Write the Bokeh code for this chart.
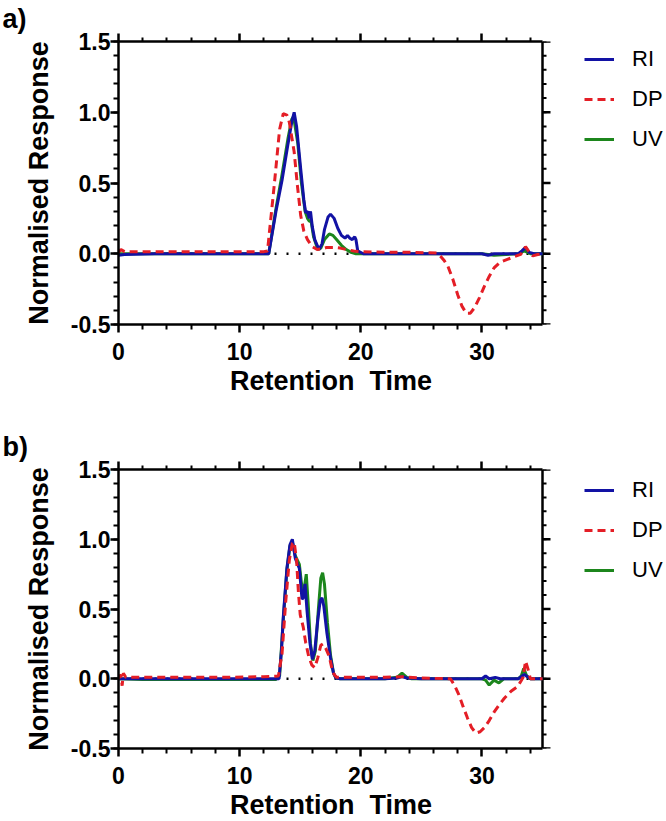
from bokeh.plotting import figure
from bokeh.models import (LinearAxis, FixedTicker, PrintfTickFormatter, Legend,
                          LegendItem, Range1d, Title)
from bokeh.layouts import column
from bokeh.embed import file_html
from bokeh.resources import INLINE

# ---------------- data: panel a ----------------
a_ri_x = [0, 0.5, 3, 6, 9, 12, 12.4, 13.0, 13.5, 14.0, 14.3, 14.5, 14.7, 15.04, 15.3, 15.45,
          15.6, 15.75, 15.85, 16.0, 16.2, 16.55, 16.8, 17.0, 17.3, 17.5, 17.8, 18.1, 18.4,
          18.7, 18.9, 19.1, 19.3, 19.5, 19.6, 19.75, 20.2, 22, 25, 28, 30, 30.5, 31, 32, 33,
          33.3, 33.6, 33.9, 34.3, 35]
a_ri_y = [-0.01, -0.005, 0, 0, 0, 0, 0, 0.3, 0.52, 0.78, 0.93, 1.0, 0.9, 0.6, 0.38, 0.29,
          0.3, 0.25, 0.3, 0.19, 0.1, 0.03, 0.07, 0.17, 0.26, 0.28, 0.25, 0.18, 0.13,
          0.11, 0.13, 0.11, 0.1, 0.12, 0.1, 0.02, 0.0, 0, 0, 0, 0, -0.01, 0, 0, 0,
          0.02, 0.045, 0.01, 0, 0]

a_uv_x = [0, 3, 6, 9, 12, 12.4, 13.0, 13.5, 14.0, 14.3, 14.45, 14.8, 15.1, 15.4, 15.6, 15.75,
          15.9, 16.1, 16.45, 16.7, 17.0, 17.4, 17.7, 18.0, 18.4, 18.8, 19.2, 19.6, 20, 25, 30,
          31, 33, 33.5, 34, 35]
a_uv_y = [0, 0, 0, 0, 0, 0, 0.32, 0.56, 0.82, 0.95, 0.97, 0.78, 0.5, 0.3, 0.25, 0.23,
          0.23, 0.12, 0.03, 0.04, 0.1, 0.14, 0.13, 0.1, 0.06, 0.03, 0.01, 0, 0, 0, 0,
          -0.01, 0, 0.02, 0, 0]

a_dp_x = [0, 0.2, 0.5, 3, 6, 9, 12, 12.3, 12.85, 13.3, 13.6, 13.9, 14.1, 14.5, 14.77, 15.04,
          15.3, 15.6, 16.0, 16.4, 16.8, 17.2, 17.7, 18.3, 18.8, 19.4, 20, 22, 24, 26.3, 26.6,
          26.9, 27.2, 27.6, 28.0, 28.35, 28.7, 29.05, 29.4, 29.8, 30.2, 30.6, 31.0, 31.5, 32.1,
          32.7, 33.2, 33.6, 34.0, 34.2, 34.6, 35]
a_dp_y = [0.01, 0.03, 0.015, 0.015, 0.015, 0.015, 0.015, 0.02, 0.48, 0.88, 0.99, 0.98, 0.93,
          0.72, 0.48, 0.27, 0.16, 0.1, 0.05, 0.03, 0.035, 0.045, 0.045, 0.04, 0.03, 0.02,
          0.015, 0.01, 0.01, 0.005, -0.02, -0.05, -0.09, -0.18, -0.29, -0.37, -0.42, -0.42,
          -0.38, -0.31, -0.23, -0.16, -0.10, -0.06, -0.04, -0.02, -0.005, 0.05, 0.0, -0.015,
          -0.005, 0.0]

# ---------------- data: panel b ----------------
b_ri_x = [0, 3, 6, 9, 12, 13.0, 13.25, 13.45, 13.6, 13.9, 14.15, 14.35, 14.6, 14.93, 15.15,
          15.25, 15.4, 15.55, 15.8, 16.0, 16.2, 16.45, 16.65, 16.8, 16.95, 17.2, 17.5, 17.75,
          17.95, 18.3, 20, 22, 23.0, 23.4, 23.8, 25, 28, 30, 30.3, 30.6, 31.1, 31.5, 33, 33.5,
          34, 35]
b_ri_y = [0, 0, 0, 0, 0, 0, 0.0, 0.2, 0.44, 0.79, 0.96, 1.0, 0.86, 0.79, 0.57,
          0.58, 0.68, 0.5, 0.26, 0.14, 0.2, 0.42, 0.56, 0.58, 0.52, 0.33, 0.15, 0.04,
          0.005, 0, 0, 0, 0.005, 0.015, 0.005, 0, 0, 0, 0.02, 0, 0.01, 0, 0, 0.03,
          0, 0]

b_uv_x = [0, 2, 6, 10, 13.0, 13.3, 13.6, 13.9, 14.15, 14.35, 14.6, 14.93, 15.2, 15.35, 15.5,
          15.65, 15.85, 16.05, 16.25, 16.5, 16.7, 16.85, 17.0, 17.25, 17.5, 17.75, 17.95, 18.3,
          22, 23.0, 23.4, 23.8, 24.2, 30, 30.3, 30.6, 31.0, 31.4, 31.8, 33, 33.25, 33.45, 33.7,
          34.0, 35]
b_uv_y = [0, -0.005, -0.005, -0.005, -0.005, 0.02, 0.42, 0.78, 0.95, 0.98, 0.88, 0.82, 0.61,
          0.66, 0.75, 0.55, 0.25, 0.13, 0.2, 0.5, 0.72, 0.76, 0.68, 0.4, 0.17, 0.04, 0.005, 0,
          0, 0.01, 0.04, 0.01, 0, 0, -0.01, -0.045, -0.01, -0.03, 0, 0, 0.02, 0.073, 0.02,
          0, 0]

b_dp_x = [0, 0.2, 0.3, 0.4, 0.6, 3, 6, 9, 12, 13.2, 13.5, 13.8, 14.1, 14.35, 14.5, 14.7, 14.85,
          15.0, 15.25, 15.45, 15.7, 15.95, 16.2, 16.45, 16.7, 16.87, 17.1, 17.4, 17.6, 17.8,
          18.0, 18.5, 22, 23.4, 25, 27.4, 27.75, 28.1, 28.45, 28.8, 29.15, 29.5, 29.85, 30.2,
          30.6, 31.0, 31.4, 31.85, 32.4, 32.95, 33.2, 33.4, 33.6, 33.8, 34.0, 34.5, 35]
b_dp_y = [0.0, 0.03, -0.05, 0.04, 0.01, 0.01, 0.01, 0.01, 0.015, 0.02, 0.18, 0.55, 0.85, 0.97,
          0.98, 0.85, 0.62, 0.46, 0.37, 0.26, 0.16, 0.1, 0.08, 0.15, 0.24, 0.25, 0.22, 0.16,
          0.08, 0.03, 0.01, 0.01, 0.01, 0.015, 0.005, 0.0, -0.05, -0.115, -0.2, -0.28, -0.35,
          -0.39, -0.38, -0.35, -0.3, -0.24, -0.19, -0.14, -0.09, -0.056, -0.02, 0.01, 0.127,
          0.07, 0.0, 0.0, 0.0]

x_start, x_end = 0, 35
y_start, y_end = -0.5, 1.5
x_major = [0, 10, 20, 30]
x_minor = [2, 4, 6, 8, 12, 14, 16, 18, 22, 24, 26, 28, 32, 34]
y_major = [-0.5, 0.0, 0.5, 1.0, 1.5]
y_minor = [round(-0.5 + 0.1 * i, 1) for i in range(21)]

series_names = ["RI", "DP", "UV"]
panel_labels = ["a)", "b)"]
x_title = "Retention\u00a0 Time"
y_title = "Normalised Response"

BLUE = "#1212a4"
RED = "#e41e26"
GREEN = "#1c861c"
FONT = "Liberation Sans"

AXIS_W = 424          # pixel width of the axes box (0..35)
FRAME_W = 666 - 118   # frame reaches to the window edge so the legend fits inside it
PX_PER_X = AXIS_W / (x_end - x_start)
X_VIEW_END = x_start + FRAME_W / PX_PER_X
X_TITLE_W = 201       # rendered width of the x-axis title, used to centre it under the box


def style_axis(ax, labels=True, major_len=8, minor_len=5):
    ax.axis_line_width = 2.5
    ax.axis_line_color = "black"
    ax.major_tick_line_width = 2.5
    ax.minor_tick_line_width = 2
    ax.major_tick_out = major_len
    ax.major_tick_in = 0
    ax.minor_tick_out = minor_len
    ax.minor_tick_in = 0
    ax.major_label_text_font = FONT
    ax.major_label_text_font_style = "bold"
    ax.major_label_text_font_size = "23px"
    ax.major_label_text_color = "black"
    ax.axis_label_text_font = FONT
    ax.axis_label_text_font_style = "bold"
    ax.axis_label_text_font_size = "27px"
    ax.axis_label_text_color = "black"
    if not labels:
        ax.major_label_text_font_size = "0px"
        ax.major_label_text_alpha = 0
        ax.major_label_standoff = 0


def make_panel(ri, dp, uv, label, top_border, frame_h, bottom_border, leg_top):
    p = figure(frame_width=FRAME_W, frame_height=frame_h,
               x_range=Range1d(x_start, X_VIEW_END), y_range=Range1d(y_start, y_end),
               output_backend="svg", toolbar_location=None,
               min_border_left=118, min_border_right=0,
               min_border_top=top_border, min_border_bottom=bottom_border)
    p.grid.visible = False
    p.outline_line_color = None
    p.background_fill_color = "white"
    p.border_fill_color = "white"

    p.title.text = label
    p.title.text_font = FONT
    p.title.text_font_style = "bold"
    p.title.text_font_size = "27px"
    p.title.align = "left"
    p.title.offset = -116
    p.title.standoff = 0
    p.title.text_color = "black"

    p.xaxis.ticker = FixedTicker(ticks=x_major, minor_ticks=x_minor)
    p.xaxis.bounds = (x_start, x_end)
    p.yaxis.ticker = FixedTicker(ticks=y_major, minor_ticks=y_minor)
    p.yaxis.formatter = PrintfTickFormatter(format="%.1f")
    p.yaxis.axis_label = y_title
    for ax in p.xaxis:
        style_axis(ax)
        ax.major_label_standoff = 10
    for ax in p.yaxis:
        style_axis(ax)
        ax.major_label_standoff = 0
        ax.axis_label_standoff = 14

    # x-axis title centred under the 0..35 box (the frame is wider than the box)
    xt = Title(text=x_title, align="left", offset=(AXIS_W - X_TITLE_W) / 2,
               text_font=FONT, text_font_style="bold", text_font_size="27px",
               text_color="black", standoff=2)
    p.add_layout(xt, "below")

    top = LinearAxis(ticker=FixedTicker(ticks=x_major, minor_ticks=x_minor),
                     bounds=(x_start, x_end))
    style_axis(top, labels=False, minor_len=4)
    p.add_layout(top, "above")

    # right-hand axis of the box at x = 35 (line plus outward ticks)
    major_dx = 8 / PX_PER_X
    minor_dx = 4 / PX_PER_X
    p.segment(x0=[x_end], y0=[y_start], x1=[x_end], y1=[y_end],
              line_color="black", line_width=2.5)
    p.segment(x0=[x_end] * len(y_minor), y0=y_minor,
              x1=[x_end + minor_dx] * len(y_minor), y1=y_minor,
              line_color="black", line_width=2)
    p.segment(x0=[x_end] * len(y_major), y0=y_major,
              x1=[x_end + major_dx] * len(y_major), y1=y_major,
              line_color="black", line_width=2.5)

    p.line([x_start, x_end], [0, 0], line_color="black", line_width=2.5, line_dash="2 10")

    r_uv = p.line(uv[0], uv[1], line_color=GREEN, line_width=3)
    r_ri = p.line(ri[0], ri[1], line_color=BLUE, line_width=3)
    r_dp = p.line(dp[0], dp[1], line_color=RED, line_width=3, line_dash="8 5")

    leg_h = 3 * 24 + 2 * 14
    legend = Legend(items=[LegendItem(label=series_names[0], renderers=[r_ri]),
                           LegendItem(label=series_names[1], renderers=[r_dp]),
                           LegendItem(label=series_names[2], renderers=[r_uv])],
                    location=(466, frame_h - leg_top - leg_h),
                    glyph_width=30, glyph_height=24, label_height=24,
                    label_standoff=18, spacing=14, padding=0, margin=0,
                    border_line_color=None, background_fill_alpha=0,
                    label_text_font=FONT, label_text_font_size="22px",
                    label_text_color="black")
    p.add_layout(legend)
    return p


pa = make_panel((a_ri_x, a_ri_y), (a_dp_x, a_dp_y), (a_uv_x, a_uv_y), panel_labels[0],
                41, 283, 104, 11)
pb = make_panel((b_ri_x, b_ri_y), (b_dp_x, b_dp_y), (b_uv_x, b_uv_y), panel_labels[1],
                41, 279, 73, 14)

layout = column(pa, pb, spacing=0)
open("out.html", "w").write(file_html(layout, INLINE))
